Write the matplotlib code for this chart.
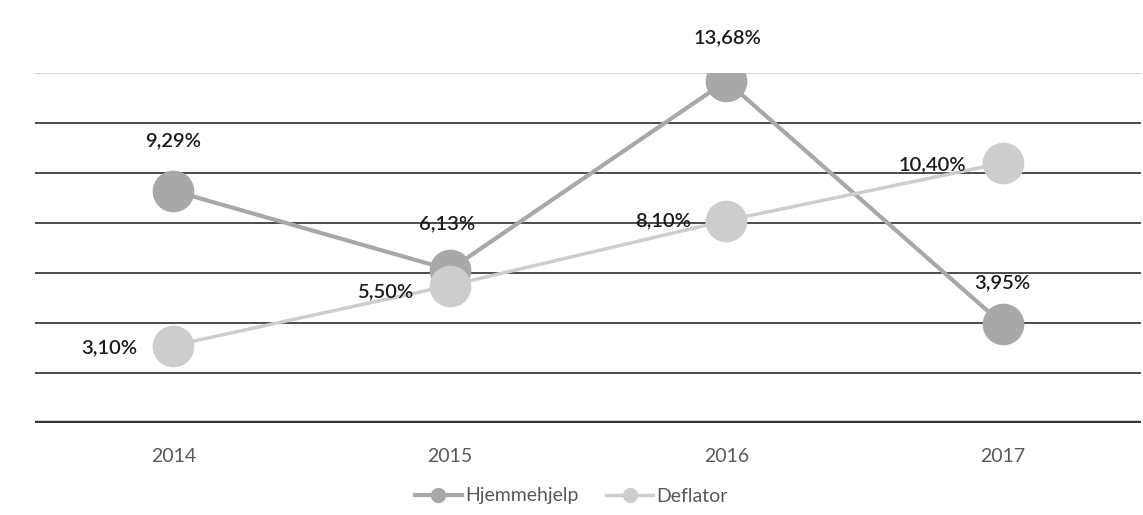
import matplotlib
matplotlib.use("Agg")
import matplotlib.pyplot as plt
from matplotlib.lines import Line2D

years = ["2014", "2015", "2016", "2017"]
hjemmehjelp = [9.29, 6.13, 13.68, 3.95]
deflator = [3.10, 5.50, 8.10, 10.40]
hjem_labels = ["9,29%", "6,13%", "13,68%", "3,95%"]
defl_labels = ["3,10%", "5,50%", "8,10%", "10,40%"]
series_names = ["Hjemmehjelp", "Deflator"]
yticks = [0, 2, 4, 6, 8, 10, 12, 14]

plt.rcParams['font.family'] = ['Lato', 'DejaVu Sans']

fig = plt.figure(figsize=(11.43, 5.15), dpi=100)
ax = fig.add_axes([35/1143, 1 - 423/515, (1141 - 35)/1143, (423 - 73)/515])

x = list(range(len(years)))
c_hjem = "#a8a8a8"
c_defl = "#cdcdcd"

ax.set_xlim(-0.5, len(years) - 0.5)
ax.set_ylim(0, 14)

for t in yticks:
    if t == 0:
        ax.axhline(t, color="#333333", lw=3.2, zorder=1)
    elif t == 14:
        ax.axhline(t, color="#d4d4d4", lw=0.8, zorder=1)
    else:
        ax.axhline(t, color="#2e2e2e", lw=1.2, zorder=1)

ax.plot(x, hjemmehjelp, color=c_hjem, lw=3, marker="o", ms=29,
        mfc=c_hjem, mec=c_hjem, zorder=3, label=series_names[0])
ax.plot(x, deflator, color=c_defl, lw=2.5, marker="o", ms=29,
        mfc=c_defl, mec=c_defl, zorder=3, label=series_names[1])

label_kw = dict(textcoords="offset points", fontsize=14.5, color="#1a1a1a",
                fontweight="semibold", zorder=5)
# Hjemmehjelp labels above
hjem_offsets = [(0, 36), (-2, 33), (1, 31), (0, 30)]
for i, (v, s) in enumerate(zip(hjemmehjelp, hjem_labels)):
    ax.annotate(s, (x[i], v), xytext=hjem_offsets[i], ha="center", va="center", **label_kw)
# Deflator labels left
defl_offsets = [(-26, -1.5), (-26, -4.5), (-25, 0), (-26, -1.5)]
for i, (v, s) in enumerate(zip(deflator, defl_labels)):
    ax.annotate(s, (x[i], v), xytext=defl_offsets[i], ha="right", va="center", **label_kw)

for sp in ax.spines.values():
    sp.set_visible(False)
ax.set_yticks([])
ax.set_xticks(x)
ax.set_xticklabels(years, fontsize=14, color="#595959")
ax.tick_params(axis="x", length=0, pad=18)

handles = [
    Line2D([0], [0], color=c_hjem, lw=3, marker="o", ms=10, mfc=c_hjem, mec=c_hjem),
    Line2D([0], [0], color=c_defl, lw=2.5, marker="o", ms=10, mfc=c_defl, mec=c_defl),
]
fig.legend(handles, series_names, loc="center", bbox_to_anchor=(0.5, 1 - 496/515),
           ncol=2, frameon=False, prop={"size": 14}, labelcolor="#595959",
           handlelength=2.4, handletextpad=0.2, columnspacing=1.4)

fig.savefig("out.png", dpi=100)
